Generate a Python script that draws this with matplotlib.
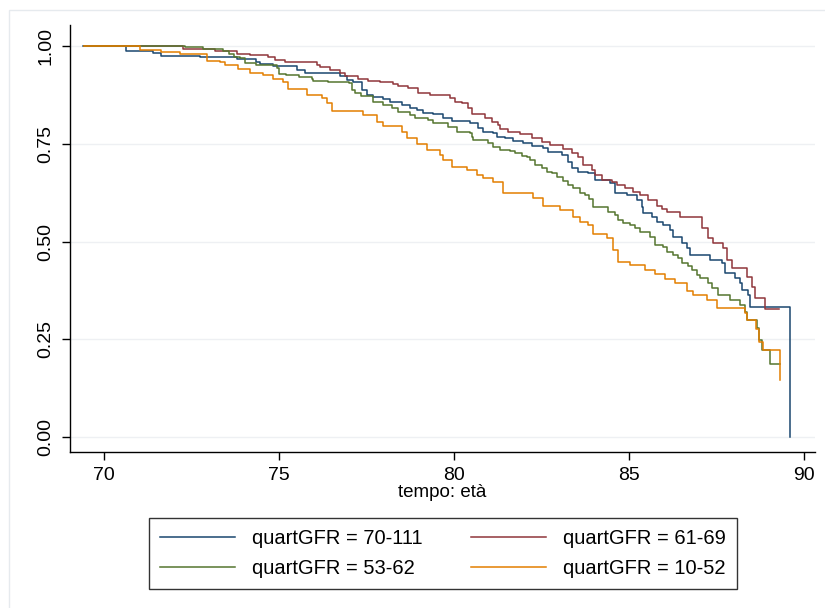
import matplotlib.pyplot as plt
from matplotlib.patches import Rectangle

plt.rcParams['font.family'] = ['Liberation Sans', 'DejaVu Sans']

# Kaplan-Meier step curves (time of drop, survival after drop)
t_70_111 = [69.40, 70.63, 71.40, 71.63, 72.74, 73.80, 74.34, 74.46, 74.83, 75.51, 75.74,
            76.74, 76.94, 77.11, 77.37, 77.51, 77.69, 77.97, 78.17, 78.51, 78.74, 78.94,
            79.11, 79.40, 79.69, 79.94, 80.46, 80.69, 80.83, 81.11, 81.23, 81.46, 81.69,
            81.97, 82.23, 82.54, 82.69, 83.09, 83.26, 83.37, 83.54, 83.83, 84.03, 84.46,
            84.60, 84.94, 85.23, 85.37, 85.40, 85.66, 85.80, 85.97, 86.17, 86.26, 86.51,
            86.66, 86.74, 87.31, 87.66, 87.74, 88.03, 88.17, 88.23, 88.40, 88.46, 89.60]
s_70_111 = [1.000, 0.987, 0.982, 0.975, 0.972, 0.967, 0.959, 0.954, 0.949, 0.939, 0.931,
            0.923, 0.913, 0.908, 0.887, 0.875, 0.870, 0.865, 0.857, 0.849, 0.841, 0.836,
            0.829, 0.826, 0.816, 0.808, 0.803, 0.790, 0.780, 0.777, 0.767, 0.765, 0.757,
            0.752, 0.744, 0.739, 0.729, 0.721, 0.703, 0.688, 0.678, 0.675, 0.657, 0.650,
            0.624, 0.619, 0.606, 0.588, 0.573, 0.563, 0.550, 0.542, 0.529, 0.512, 0.496,
            0.483, 0.465, 0.453, 0.445, 0.419, 0.407, 0.394, 0.376, 0.363, 0.332, 0.000]
end_70_111 = 89.60

t_61_69 = [69.43, 72.26, 73.17, 73.80, 74.17, 74.69, 74.89, 75.17, 76.09, 76.17, 76.46,
           76.74, 76.89, 77.26, 77.54, 77.89, 78.26, 78.40, 78.69, 78.97, 79.31, 79.89,
           80.03, 80.23, 80.40, 80.51, 80.89, 81.09, 81.26, 81.31, 81.54, 81.89, 82.23,
           82.51, 82.74, 83.11, 83.37, 83.54, 83.69, 83.94, 84.03, 84.23, 84.51, 84.66,
           84.89, 85.11, 85.31, 85.54, 85.80, 85.94, 86.09, 86.46, 87.09, 87.26, 87.40,
           87.69, 87.80, 87.94, 88.37, 88.51, 88.60, 88.89]
s_61_69 = [1.000, 0.992, 0.987, 0.980, 0.977, 0.972, 0.964, 0.959, 0.951, 0.946, 0.939,
           0.931, 0.923, 0.916, 0.910, 0.908, 0.903, 0.898, 0.893, 0.880, 0.875, 0.867,
           0.857, 0.854, 0.841, 0.826, 0.816, 0.806, 0.798, 0.788, 0.780, 0.775, 0.765,
           0.754, 0.747, 0.737, 0.726, 0.716, 0.696, 0.683, 0.670, 0.657, 0.652, 0.645,
           0.637, 0.627, 0.619, 0.606, 0.591, 0.583, 0.575, 0.563, 0.535, 0.509, 0.496,
           0.483, 0.453, 0.432, 0.409, 0.384, 0.355, 0.327]
end_61_69 = 89.29

t_53_62 = [69.43, 72.31, 72.83, 73.40, 73.57, 73.71, 73.89, 74.03, 74.34, 74.94, 75.00,
           75.20, 75.57, 75.94, 75.97, 76.40, 77.00, 77.09, 77.17, 77.34, 77.69, 77.97,
           78.23, 78.40, 78.74, 78.89, 79.26, 79.40, 79.83, 80.09, 80.46, 80.51, 80.54,
           80.97, 81.11, 81.31, 81.60, 81.74, 81.94, 82.09, 82.17, 82.31, 82.51, 82.66,
           82.80, 82.94, 83.11, 83.26, 83.40, 83.60, 83.74, 83.86, 83.97, 84.40, 84.60,
           84.69, 84.83, 85.03, 85.17, 85.31, 85.60, 85.74, 85.97, 86.09, 86.26, 86.40,
           86.51, 86.69, 86.80, 86.94, 87.03, 87.26, 87.37, 87.54, 87.89, 88.17, 88.31,
           88.37, 88.66, 88.71, 88.80, 89.03]
s_53_62 = [1.000, 0.997, 0.992, 0.987, 0.981, 0.973, 0.969, 0.957, 0.951, 0.944, 0.929,
           0.927, 0.921, 0.916, 0.910, 0.908, 0.905, 0.887, 0.880, 0.872, 0.857, 0.849,
           0.841, 0.831, 0.824, 0.816, 0.811, 0.803, 0.793, 0.780, 0.777, 0.767, 0.760,
           0.752, 0.742, 0.734, 0.731, 0.726, 0.719, 0.716, 0.708, 0.696, 0.688, 0.678,
           0.675, 0.665, 0.655, 0.645, 0.637, 0.624, 0.619, 0.609, 0.588, 0.575, 0.568,
           0.555, 0.547, 0.542, 0.535, 0.524, 0.512, 0.491, 0.486, 0.473, 0.465, 0.458,
           0.445, 0.437, 0.427, 0.414, 0.407, 0.394, 0.381, 0.363, 0.350, 0.338, 0.320,
           0.299, 0.279, 0.248, 0.223, 0.187]
end_53_62 = 89.31

t_10_52 = [69.43, 71.03, 71.63, 72.17, 72.94, 73.31, 73.46, 73.83, 74.17, 74.54, 74.83,
           75.11, 75.26, 75.80, 76.23, 76.37, 76.51, 77.40, 77.80, 77.97, 78.51, 78.66,
           78.94, 79.23, 79.60, 79.69, 79.94, 80.37, 80.66, 80.83, 81.11, 81.40, 82.26,
           82.54, 83.03, 83.40, 83.60, 83.83, 83.97, 84.37, 84.54, 84.69, 85.03, 85.46,
           85.74, 86.03, 86.31, 86.66, 86.83, 87.23, 87.51, 88.31, 88.37, 88.63, 88.71,
           88.83, 89.31]
s_10_52 = [1.000, 0.990, 0.984, 0.980, 0.962, 0.959, 0.951, 0.941, 0.931, 0.926, 0.916,
           0.908, 0.890, 0.875, 0.867, 0.854, 0.834, 0.824, 0.806, 0.795, 0.780, 0.765,
           0.749, 0.734, 0.721, 0.708, 0.691, 0.683, 0.670, 0.662, 0.652, 0.624, 0.611,
           0.591, 0.581, 0.563, 0.550, 0.542, 0.519, 0.509, 0.478, 0.448, 0.440, 0.427,
           0.417, 0.404, 0.394, 0.373, 0.363, 0.350, 0.330, 0.317, 0.299, 0.276, 0.243,
           0.223, 0.146]
end_10_52 = 89.31

series = [
    ('quartGFR = 70-111', t_70_111, s_70_111, end_70_111, '#1a476f'),
    ('quartGFR = 61-69', t_61_69, s_61_69, end_61_69, '#90353b'),
    ('quartGFR = 53-62', t_53_62, s_53_62, end_53_62, '#55752f'),
    ('quartGFR = 10-52', t_10_52, s_10_52, end_10_52, '#e37e00'),
]

fig = plt.figure(figsize=(8.25, 6.08), dpi=100)
# faint outer frame, as in the Stata graph region
fig.patches.append(Rectangle((9 / 825, -0.1), 2, 1 - 10 / 608 + 0.1, transform=fig.transFigure,
                             fill=False, edgecolor='#e6eaee', linewidth=1.0))

ax = fig.add_axes([70 / 825, 1 - 452 / 608, (815 - 70) / 825, (452 - 25) / 608])

for yv in [0, 0.25, 0.5, 0.75, 1.0]:
    ax.axhline(yv, color='#eef0f3', linewidth=1.0, zorder=0)

lines = {}
for label, t, s, t_end, color in series:
    xs = list(t)
    ys = list(s)
    if xs[-1] < t_end:
        xs.append(t_end)
        ys.append(ys[-1])
    lines[label], = ax.step(xs, ys, where='post', color=color, linewidth=1.1, label=label)

ax.set_xlim(69.03, 90.31)
ax.set_ylim(-0.038, 1.054)
ax.set_xticks([70, 75, 80, 85, 90])
ax.set_yticks([0, 0.25, 0.5, 0.75, 1.0])
ax.set_yticklabels(['0.00', '0.25', '0.50', '0.75', '1.00'], rotation=90, va='center')
ax.tick_params(labelsize=14, length=6, width=1, color='black', pad=5)
for side in ['top', 'right']:
    ax.spines[side].set_visible(False)
for side in ['left', 'bottom']:
    ax.spines[side].set_linewidth(1.0)
ax.set_xlabel('tempo: età', fontsize=13.5, labelpad=0)

# legend filled row by row like Stata: matplotlib fills columns, so reorder
order = ['quartGFR = 70-111', 'quartGFR = 53-62', 'quartGFR = 61-69', 'quartGFR = 10-52']
leg = fig.legend([lines[k] for k in order], order, loc='upper center',
                 bbox_to_anchor=(443 / 825, 1 - 518 / 608),
                 ncol=2, fontsize=14.5, frameon=True, fancybox=False, edgecolor='black',
                 handlelength=3.7, handletextpad=0.85, columnspacing=2.4,
                 labelspacing=0.55, borderpad=0.55, borderaxespad=0)
leg.get_frame().set_linewidth(1.0)

fig.savefig('out.png', dpi=100)
